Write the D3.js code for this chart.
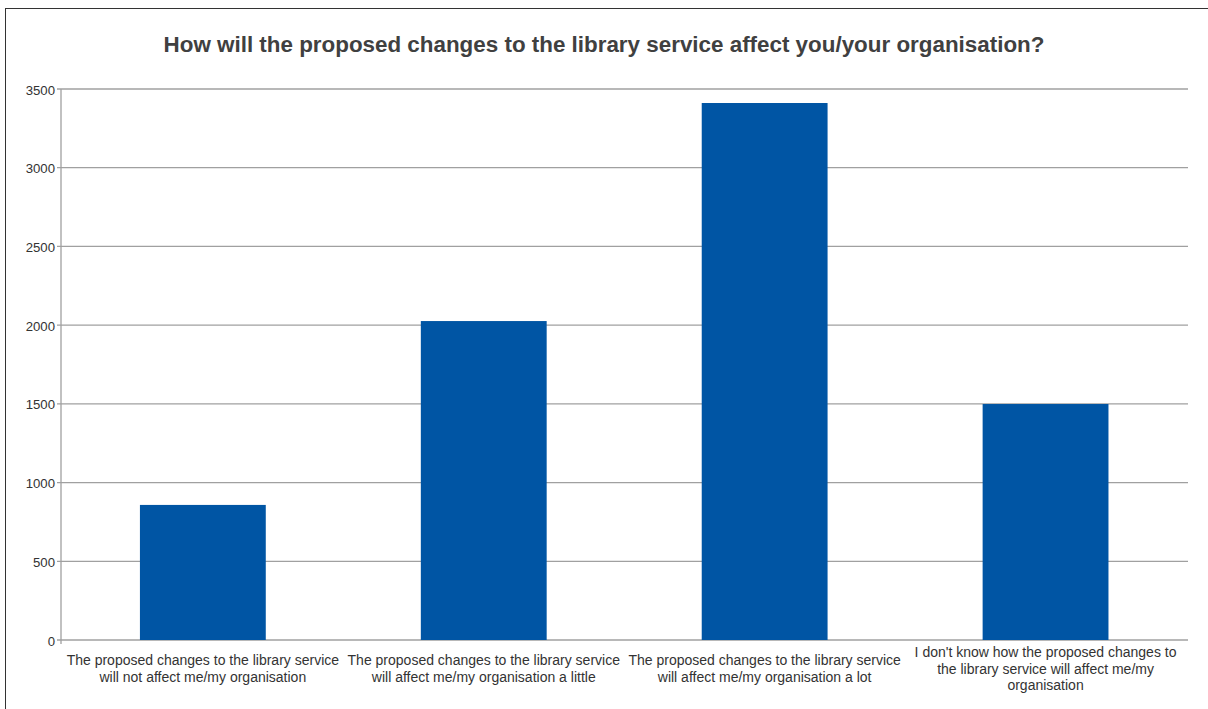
<!DOCTYPE html>
<html>
<head>
<meta charset="utf-8">
<script src="https://cdn.jsdelivr.net/npm/d3@7"></script>
<style>
  html, body { margin: 0; padding: 0; background: #fff; }
  svg { display: block; font-family: "Liberation Sans", Arial, sans-serif; }
</style>
</head>
<body>
<svg id="chart" width="1208" height="709"></svg>
<script>
// Survey responses per answer option
const categories = [
  ["The proposed changes to the library service", "will not affect me/my organisation"],
  ["The proposed changes to the library service", "will affect me/my organisation a little"],
  ["The proposed changes to the library service", "will affect me/my organisation a lot"],
  ["I don't know how the proposed changes to", "the library service will affect me/my", "organisation"]
];
const responses = [858, 2026, 3411, 1499];
const yTicks = [0, 500, 1000, 1500, 2000, 2500, 3000, 3500];
const title = "How will the proposed changes to the library service affect you/your organisation?";

const svg = d3.select("#chart");
const W = 1208, H = 709;
const plot = { left: 61, right: 1188, top: 89, bottom: 640 };

// outer frame
svg.append("rect")
  .attr("x", 5.5).attr("y", 8.5)
  .attr("width", W + 10).attr("height", H + 10)
  .attr("fill", "none").attr("stroke", "#333").attr("stroke-width", 1);

svg.append("text")
  .attr("x", 604).attr("y", 52)
  .attr("text-anchor", "middle")
  .attr("font-size", 22.4).attr("font-weight", "bold")
  .attr("fill", "#404040")
  .text(title);

const x = d3.scaleBand()
  .domain(d3.range(categories.length))
  .range([62.4, 1186])
  .paddingInner(0.552)
  .paddingOuter(0.276);

const y = d3.scaleLinear()
  .domain([0, 3500])
  .range([plot.bottom, plot.top]);

// horizontal gridlines
svg.append("g")
  .selectAll("line")
  .data(yTicks)
  .join("line")
  .attr("x1", plot.left - 4).attr("x2", plot.right)
  .attr("y1", d => y(d)).attr("y2", d => y(d))
  .attr("stroke", "#a0a0a0").attr("stroke-width", 1.3);

// y axis line
svg.append("line")
  .attr("x1", plot.left).attr("x2", plot.left)
  .attr("y1", plot.top).attr("y2", plot.bottom + 4)
  .attr("stroke", "#a0a0a0").attr("stroke-width", 1.3);

// y tick labels
svg.append("g")
  .selectAll("text")
  .data(yTicks)
  .join("text")
  .attr("x", plot.left - 6)
  .attr("y", d => y(d) + 5.5)
  .attr("text-anchor", "end")
  .attr("font-size", 13.2)
  .attr("fill", "#333")
  .text(d => d);

// bars
svg.append("g")
  .selectAll("rect")
  .data(responses)
  .join("rect")
  .attr("x", (d, i) => x(i))
  .attr("width", x.bandwidth())
  .attr("y", d => y(d))
  .attr("height", d => y(0) - y(d))
  .attr("fill", "#0055a4");

// category labels, each block vertically centred below the axis
const lineGap = 16.4;
const blockMid = 673.5;
const labels = svg.append("g")
  .selectAll("text")
  .data(categories)
  .join("text")
  .attr("x", (d, i) => x(i) + x.bandwidth() / 2)
  .attr("y", d => blockMid - (d.length - 1) * lineGap / 2)
  .attr("text-anchor", "middle")
  .attr("font-size", 14)
  .attr("fill", "#333");

labels.selectAll("tspan")
  .data(d => d)
  .join("tspan")
  .attr("x", function () { return d3.select(this.parentNode).attr("x"); })
  .attr("dy", (d, i) => i === 0 ? 0 : lineGap)
  .text(d => d);
</script>
</body>
</html>
